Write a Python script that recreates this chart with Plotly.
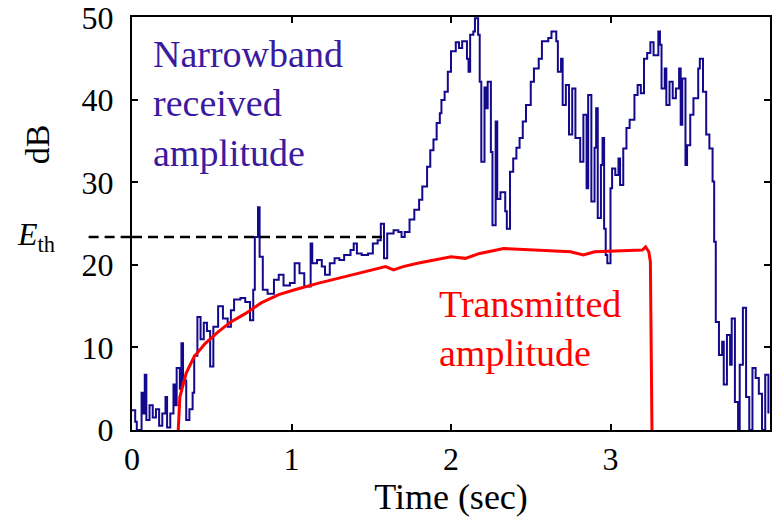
import plotly.graph_objects as go

# ---- Data ----
blue_time = [
    0.00, 0.02, 0.03, 0.06, 0.07, 0.08, 0.09, 0.11, 0.13, 0.15,
    0.17, 0.19, 0.21, 0.22, 0.24, 0.26, 0.27, 0.28, 0.30, 0.31,
    0.32, 0.34, 0.36, 0.38, 0.39, 0.41, 0.43, 0.45, 0.47, 0.49,
    0.51, 0.54, 0.57, 0.60, 0.62, 0.64, 0.68, 0.71, 0.74, 0.76,
    0.77, 0.79, 0.80, 0.82, 0.85, 0.89, 0.92, 0.95, 0.99,
    1.02, 1.05, 1.08, 1.12, 1.13, 1.16, 1.19, 1.21, 1.24, 1.27,
    1.30, 1.33, 1.37, 1.39, 1.41, 1.44, 1.48, 1.51, 1.54, 1.56,
    1.58, 1.60, 1.64, 1.67, 1.69, 1.71, 1.74, 1.77, 1.80, 1.82,
    1.85, 1.87, 1.89, 1.91, 1.93, 1.94, 1.96, 1.98,
    2.00, 2.03, 2.05, 2.07, 2.10, 2.11, 2.12, 2.14, 2.15, 2.17,
    2.18, 2.19, 2.21, 2.22, 2.23, 2.25, 2.26, 2.28, 2.29, 2.31,
    2.34, 2.35, 2.37, 2.39, 2.41, 2.43, 2.45, 2.47, 2.50, 2.52,
    2.55, 2.57, 2.61, 2.63, 2.66, 2.67, 2.69, 2.70, 2.72, 2.74,
    2.76, 2.78, 2.81, 2.83, 2.85, 2.86, 2.88, 2.90, 2.91, 2.92,
    2.94, 2.95, 2.96, 2.97, 2.98,
    3.00, 3.01, 3.03, 3.05, 3.06, 3.08, 3.10, 3.12, 3.15, 3.17,
    3.19, 3.21, 3.23, 3.25, 3.27, 3.30, 3.31, 3.32, 3.34, 3.35,
    3.37, 3.39, 3.41, 3.43, 3.44, 3.45, 3.47, 3.48, 3.50, 3.52,
    3.55, 3.56, 3.58, 3.60, 3.62, 3.64, 3.65, 3.66, 3.68, 3.70,
    3.71, 3.73, 3.75, 3.76, 3.78, 3.80, 3.81, 3.83, 3.85, 3.87,
    3.89, 3.91, 3.93, 3.95, 3.97, 3.99,
]
blue_db = [
    2.4, 1.0, 0.0, 4.5, 2.0, 6.7, 1.2, 3.0, 1.5, 2.5,
    0.5, 2.0, 4.0, 0.3, 2.0, 5.5, 3.0, 7.5, 5.0, 10.5,
    6.0, 1.2, 2.5, 4.5, 9.0, 13.7, 11.0, 13.0, 12.0, 7.7,
    12.5, 15.0, 13.5, 12.5, 14.5, 15.8, 16.0, 15.5, 13.3, 17.0,
    23.4, 27.0, 21.0, 17.0, 16.5, 18.2, 18.8, 17.5, 17.8,
    20.2, 19.0, 17.4, 22.6, 20.2, 20.6, 19.8, 18.8, 20.2, 20.8,
    20.6, 21.2, 21.8, 22.6, 21.4, 21.2, 21.4, 22.6, 23.0, 25.0,
    20.8, 23.8, 24.2, 24.0, 23.4, 24.0, 25.5, 26.7, 27.9, 29.5,
    31.9, 33.9, 35.2, 37.2, 38.4, 40.0, 41.0, 43.4,
    45.9, 47.0, 46.3, 47.1, 45.0, 43.4, 47.9, 48.3, 49.9, 47.9,
    42.2, 32.5, 41.5, 39.0, 42.2, 33.7, 24.8, 37.4, 28.0, 28.8,
    26.5, 24.4, 31.3, 32.9, 34.2, 35.4, 37.4, 39.4, 42.2, 43.8,
    45.0, 47.1, 47.5, 48.3, 47.1, 43.4, 45.0, 39.4, 41.8, 35.8,
    41.4, 35.4, 32.5, 38.2, 29.3, 40.6, 27.7, 34.2, 39.0, 25.7,
    32.1, 35.4, 24.4, 21.2, 20.2,
    29.3, 31.7, 30.9, 32.9, 29.7, 34.1, 36.6, 37.6, 40.6, 41.8,
    40.8, 45.0, 45.7, 47.0, 45.4, 48.3, 46.7, 41.4, 43.8, 39.4,
    42.2, 40.2, 41.4, 43.8, 37.0, 42.6, 32.1, 34.5, 38.2, 40.2,
    43.8, 45.0, 41.0, 35.8, 34.1, 30.1, 22.8, 13.1, 9.1, 10.7,
    5.5, 11.5, 7.9, 13.5, 3.4, 0.0, 7.9, 14.8, 4.0, 0.0,
    7.5, 6.3, 4.4, 0.0, 6.7, 2.0,
]

red_time = [0.29, 0.30, 0.34, 0.39, 0.46, 0.54, 0.62, 0.71, 0.81, 0.92,
            1.02, 1.17, 1.38, 1.59, 1.64, 1.70, 1.79, 2.00, 2.09, 2.18,
            2.33, 2.58, 2.75, 2.83, 2.90, 3.20, 3.22, 3.24, 3.25, 3.26]
red_db = [0.0, 4.0, 6.9, 8.9, 10.5, 11.9, 13.1, 14.1, 15.4, 16.4,
          17.0, 17.8, 18.8, 19.8, 19.4, 19.8, 20.2, 21.0, 20.8, 21.4,
          22.0, 21.8, 21.6, 21.2, 21.6, 21.8, 22.2, 21.6, 20.4, 0.0]

threshold_db = 23.4      # E_th level
threshold_end = 1.6      # where the dashed line stops (sec)

x_ticks = [0, 1, 2, 3]
y_ticks = [0, 10, 20, 30, 40, 50]

BLUE = "#14098c"
BLUE_TEXT = "#3a1aa0"
RED = "#ff0000"
FONT = "Liberation Serif"

fig = go.Figure()
fig.add_trace(go.Scatter(x=blue_time, y=blue_db, mode="lines",
                         line=dict(color=BLUE, width=2, shape="hv")))
fig.add_trace(go.Scatter(x=red_time, y=red_db, mode="lines",
                         line=dict(color=RED, width=3)))

# dashed threshold line (outside part in paper coords, inside part in data coords)
dash = "10px,6px"
fig.add_shape(type="line", xref="paper", yref="y", x0=-0.068, x1=0,
              y0=threshold_db, y1=threshold_db,
              line=dict(color="black", width=2.5, dash=dash))
fig.add_shape(type="line", xref="x", yref="y", x0=0, x1=threshold_end,
              y0=threshold_db, y1=threshold_db,
              line=dict(color="black", width=2.5, dash=dash))

fig.add_annotation(xref="paper", yref="paper", x=0.030, y=0.79,
                   xanchor="left", yanchor="middle", align="left",
                   text="Narrowband<br>received<br>amplitude", showarrow=False,
                   font=dict(family=FONT, size=38, color=BLUE_TEXT))
fig.add_annotation(xref="paper", yref="paper", x=0.478, y=0.245,
                   xanchor="left", yanchor="middle", align="left",
                   text="Transmitted<br>amplitude", showarrow=False,
                   font=dict(family=FONT, size=38, color=RED))
fig.add_annotation(xref="paper", yref="paper", x=-0.148, y=0.691,
                   xanchor="center", yanchor="middle", textangle=-90,
                   text="dB", showarrow=False,
                   font=dict(family=FONT, size=34, color="black"))
fig.add_annotation(xref="paper", yref="y", x=-0.150, y=threshold_db,
                   xanchor="center", yanchor="middle",
                   text="<i>E</i><sub>th</sub>", showarrow=False,
                   font=dict(family=FONT, size=32, color="black"))

axis_common = dict(showline=True, linecolor="black", linewidth=2,
                   mirror="ticks", ticks="inside", ticklen=6, tickwidth=2,
                   tickcolor="black", showgrid=False, zeroline=False,
                   automargin=False, ticklabeloverflow="allow",
                   tickfont=dict(family=FONT, size=32, color="black"))

fig.update_xaxes(range=[0, 4], tickvals=x_ticks, **axis_common,
                 title=dict(text="Time (sec)", standoff=4,
                            font=dict(family=FONT, size=36, color="black")))
fig.update_yaxes(range=[0, 50.05], tickvals=y_ticks, ticklabelstandoff=10,
                 **axis_common)

fig.update_layout(width=776, height=521,
                  margin=dict(l=132, r=6, t=17, b=91),
                  plot_bgcolor="white", paper_bgcolor="white",
                  showlegend=False,
                  font=dict(family=FONT, color="black"))

fig.write_html("out.html", config={"displayModeBar": False},
               post_script="document.body.style.margin='0';")
